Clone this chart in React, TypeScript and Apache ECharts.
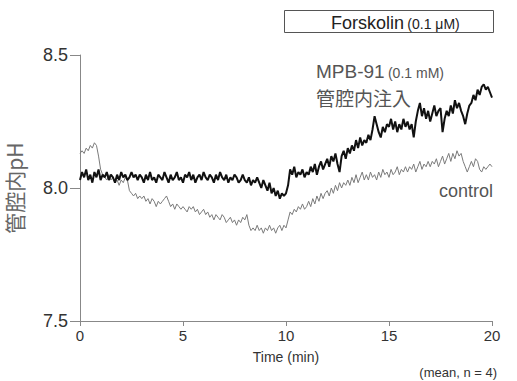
import React, { useEffect, useRef } from "react";
import * as echarts from "echarts";

const xTicks = [0, 5, 10, 15, 20];
const yTicks = [7.5, 8.0, 8.5];
const sampleStepMin = 0.1;

// MPB-91 (0.1 mM) luminal injection, read every 0.1 min from 0 to 20 min
const mpb91 = [
  8.03, 8.06, 8.04, 8.07, 8.03, 8.05, 8.02, 8.06, 8.04, 8.07,
  8.03, 8.05, 8.04, 8.06, 8.03, 8.05, 8.04, 8.02, 8.05, 8.03,
  8.06, 8.04, 8.05, 8.03, 8.04, 8.06, 8.04, 8.05, 8.03, 8.05,
  8.04, 8.02, 8.05, 8.03, 8.06, 8.03, 8.04, 8.02, 8.05, 8.04,
  8.03, 8.06, 8.04, 8.02, 8.05, 8.03, 8.04, 8.06, 8.03, 8.04,
  8.02, 8.05, 8.04, 8.06, 8.03, 8.05, 8.02, 8.04, 8.05, 8.03,
  8.06, 8.04, 8.03, 8.05, 8.04, 8.02, 8.05, 8.03, 8.06, 8.04,
  8.03, 8.05, 8.02, 8.04, 8.03, 8.05, 8.04, 8.02, 8.03, 8.05,
  8.03, 8.02, 8.04, 8.01, 8.03, 8.02, 8.04, 8.02, 8.00, 8.03,
  8.01, 7.99, 8.02, 7.98, 8.00, 7.97, 7.99, 7.96, 7.98, 7.97,
  7.98, 8.01, 8.07, 8.05, 8.08, 8.04, 8.06, 8.05, 8.07, 8.04,
  8.06, 8.05, 8.08, 8.06, 8.09, 8.05, 8.08, 8.10, 8.07, 8.09,
  8.11, 8.08, 8.12, 8.10, 8.13, 8.09, 8.06, 8.12, 8.14, 8.11,
  8.15, 8.13, 8.16, 8.14, 8.18, 8.15, 8.19, 8.16, 8.18, 8.17,
  8.20, 8.18, 8.22, 8.27, 8.24, 8.21, 8.19, 8.23, 8.21, 8.24,
  8.23, 8.26, 8.22, 8.25, 8.21, 8.24, 8.22, 8.26, 8.23, 8.25,
  8.22, 8.24, 8.19, 8.25, 8.29, 8.32, 8.27, 8.30, 8.26, 8.29,
  8.25, 8.28, 8.31, 8.27, 8.29, 8.30, 8.21, 8.26, 8.29, 8.27,
  8.31, 8.28, 8.33, 8.30, 8.32, 8.29, 8.27, 8.24, 8.28, 8.31,
  8.32, 8.35, 8.33, 8.37, 8.35, 8.38, 8.39, 8.37, 8.38, 8.36,
  8.34,
];

// control, read every 0.1 min from 0 to 20 min
const control = [
  8.13, 8.14, 8.13, 8.15, 8.14, 8.16, 8.15, 8.17, 8.16, 8.12,
  8.07, 8.05, 8.04, 8.03, 8.05, 8.03, 8.04, 8.02, 8.03, 8.01,
  8.03, 8.02, 8.04, 8.03, 7.99, 7.98, 7.97, 7.98, 7.96, 7.97,
  7.96, 7.97, 7.95, 7.96, 7.94, 7.96, 7.95, 7.93, 7.95, 7.94,
  7.95, 7.96, 7.97, 7.95, 7.93, 7.94, 7.92, 7.94, 7.93, 7.92,
  7.93, 7.92, 7.91, 7.93, 7.92, 7.93, 7.91, 7.92, 7.90, 7.91,
  7.92, 7.90, 7.91, 7.89, 7.90, 7.88, 7.90, 7.89, 7.88, 7.90,
  7.89, 7.87, 7.88, 7.89, 7.87, 7.88, 7.86, 7.88, 7.87, 7.89,
  7.88, 7.90, 7.86, 7.84, 7.85, 7.84, 7.86, 7.84, 7.85, 7.83,
  7.85, 7.84, 7.86, 7.84, 7.85, 7.83, 7.85, 7.86, 7.84, 7.86,
  7.85, 7.88, 7.91, 7.90, 7.92, 7.91, 7.93, 7.92, 7.94, 7.92,
  7.93, 7.95, 7.93, 7.96, 7.94, 7.97, 7.95, 7.98, 7.96, 7.98,
  7.99, 7.97, 8.00, 7.98, 8.01, 7.99, 8.02, 8.00, 8.02, 8.01,
  8.03, 8.01, 8.04, 8.02, 8.05, 8.02, 8.04, 8.06, 8.03, 8.05,
  8.03, 8.06, 8.04, 8.05, 8.03, 8.06, 8.04, 8.07, 8.05, 8.06,
  8.04, 8.07, 8.05, 8.06, 8.08, 8.05, 8.07, 8.06, 8.08, 8.06,
  8.08, 8.07, 8.09, 8.06, 8.08, 8.10, 8.07, 8.09, 8.08, 8.10,
  8.08, 8.10, 8.09, 8.11, 8.08, 8.10, 8.12, 8.09, 8.11, 8.13,
  8.10, 8.13, 8.11, 8.14, 8.12, 8.13, 8.10, 8.08, 8.06, 8.08,
  8.10, 8.08, 8.11, 8.10, 8.07, 8.06, 8.08, 8.07, 8.08, 8.09,
  8.08,
];

const FONT = "'Liberation Sans', Arial, 'Noto Sans CJK JP', sans-serif";
const CJK = "'Noto Sans CJK JP', 'Liberation Sans', sans-serif";

export default function App() {
  const ref = useRef<HTMLDivElement>(null);
  useEffect(() => {
    if (!ref.current) return;
    const chart = echarts.init(ref.current, null, { renderer: "svg" });
    const toPairs = (arr: number[]) => arr.map((v, i) => [Number((i * sampleStepMin).toFixed(1)), v]);
    chart.setOption({
      animation: false,
      backgroundColor: "#ffffff",
      grid: {
        left: 80,
        right: 25,
        top: 55,
        bottom: 60,
        containLabel: false,
        outerBoundsMode: "none",
      },
      xAxis: {
        type: "value",
        min: xTicks[0],
        max: xTicks[xTicks.length - 1],
        interval: 5,
        name: "Time (min)",
        nameLocation: "middle",
        nameGap: 29,
        nameTextStyle: { fontFamily: FONT, fontSize: 14, color: "#333" },
        axisLine: { lineStyle: { color: "#888", width: 1 } },
        axisTick: { show: true, length: 5, lineStyle: { color: "#888" } },
        axisLabel: { fontFamily: FONT, fontSize: 15, color: "#333", margin: 7 },
        splitLine: { show: false },
      },
      yAxis: {
        type: "value",
        min: yTicks[0],
        max: yTicks[yTicks.length - 1],
        interval: 0.5,
        name: "管腔内pH",
        nameLocation: "middle",
        nameGap: 56,
        nameRotate: 90,
        nameTextStyle: { fontFamily: CJK, fontSize: 21, color: "#666" },
        axisLine: { lineStyle: { color: "#888", width: 1 } },
        axisTick: { show: true, length: 10, lineStyle: { color: "#888" } },
        axisLabel: {
          fontFamily: FONT,
          fontSize: 18,
          color: "#333",
          margin: 12,
          formatter: (v: number) => v.toFixed(1),
        },
        splitLine: { show: false },
      },
      series: [
        {
          name: "control",
          type: "line",
          data: toPairs(control),
          showSymbol: false,
          symbol: "none",
          lineStyle: { color: "#7a7a7a", width: 1 },
          z: 2,
        },
        {
          name: "MPB-91",
          type: "line",
          data: toPairs(mpb91),
          showSymbol: false,
          symbol: "none",
          lineStyle: { color: "#111111", width: 2 },
          z: 3,
        },
      ],
      graphic: [
        {
          type: "rect",
          shape: { x: 284.5, y: 10.5, width: 209, height: 22 },
          style: { fill: "#fff", stroke: "#555", lineWidth: 1 },
        },
        {
          type: "text",
          x: 331,
          y: 22,
          style: {
            text: "{a|Forskolin} {b|(0.1 μM)}",
            verticalAlign: "middle",
            rich: {
              a: { fontFamily: FONT, fontSize: 18, fill: "#222", lineHeight: 19, verticalAlign: "bottom" },
              b: { fontFamily: FONT, fontSize: 14, fill: "#222", lineHeight: 19, verticalAlign: "bottom", padding: [0, 0, 1, 0] },
            },
          },
        },
        {
          type: "text",
          x: 316,
          y: 72,
          style: {
            text: "{a|MPB-91} {b|(0.1 mM)}",
            verticalAlign: "middle",
            rich: {
              a: { fontFamily: FONT, fontSize: 19, fill: "#555", lineHeight: 18, verticalAlign: "bottom" },
              b: { fontFamily: FONT, fontSize: 14, fill: "#555", lineHeight: 18, verticalAlign: "bottom", padding: [0, 0, 1, 0] },
            },
          },
        },
        {
          type: "text",
          x: 316,
          y: 97,
          style: {
            text: "管腔内注入",
            fontFamily: CJK,
            fontSize: 19,
            fill: "#555",
            verticalAlign: "middle",
          },
        },
        {
          type: "text",
          x: 439,
          y: 191,
          style: {
            text: "control",
            fontFamily: FONT,
            fontSize: 18,
            fill: "#555",
            verticalAlign: "middle",
          },
        },
        {
          type: "text",
          x: 497,
          y: 372,
          style: {
            text: "(mean, n = 4)",
            fontFamily: FONT,
            fontSize: 13,
            fill: "#333",
            align: "right",
            verticalAlign: "middle",
          },
        },
      ],
    });
    return () => chart.dispose();
  }, []);
  return (
    <div
      ref={ref}
      style={{ position: "fixed", left: 0, top: 0, width: 517, height: 381 }}
    />
  );
}
